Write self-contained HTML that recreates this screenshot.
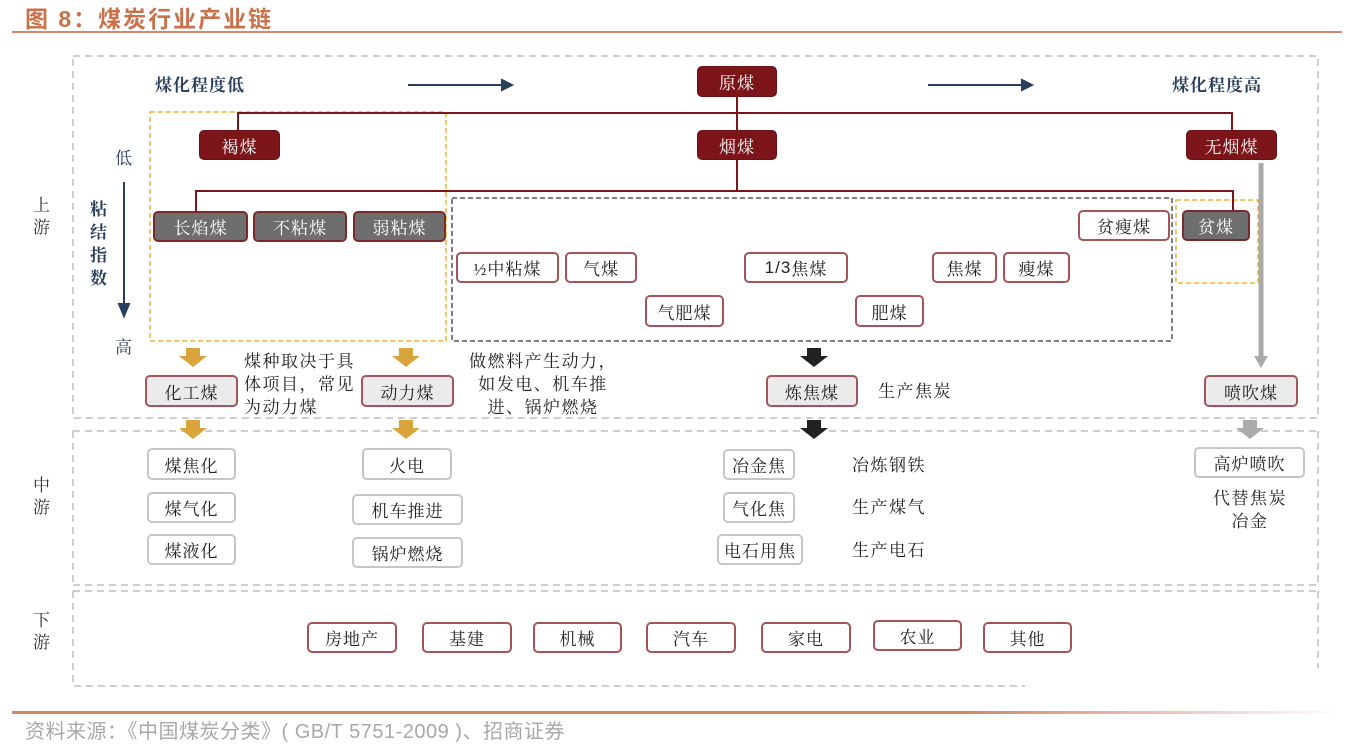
<!DOCTYPE html>
<html><head><meta charset="utf-8">
<style>
*{margin:0;padding:0;box-sizing:border-box}
body{width:1356px;height:748px;background:#fff;position:relative;overflow:hidden;font-family:"Liberation Serif","Noto Serif CJK SC",serif;color:#222}
.a{position:absolute}
.b{position:absolute;display:flex;align-items:center;justify-content:center;font-size:17px;border-radius:5px;white-space:nowrap;letter-spacing:1px}
.r{background:#7b1519;color:#fff;border:1px solid #6a1013}
.g{background:#6e6e6e;color:#fff;border:2px solid #7b2a2c}
.w{background:#fff;color:#222;border:2px solid #a5545a}
.l{background:#ebebeb;color:#222;border:2px solid #a5545a}
.o{background:#fff;color:#222;border:2px solid #c6c6c6}
.t{position:absolute;font-size:17px;line-height:23px;white-space:nowrap;letter-spacing:1.5px}
</style></head><body>
<div class="a" style="left:25px;top:0px;font-size:23px;font-weight:bold;color:#c8714b;font-family:'Liberation Sans','Noto Sans CJK SC',sans-serif;letter-spacing:2px">图 8：煤炭行业产业链</div>
<div class="a" style="left:12px;top:31px;width:1330px;height:2px;background:#d3866a"></div>

<svg class="a" style="left:0;top:0" width="1356" height="748">
<g fill="none" stroke="#bdbdbd" stroke-width="1.5" stroke-dasharray="7,5">
<rect x="73" y="56" width="1245" height="362"/>
<path d="M73 431 H1318 M73 431 V585 M1318 431 V585 M73 585 H1318"/>
<path d="M73 591 H1318 M73 591 V686 H1025 M1318 591 V668"/>
</g>
<rect x="150" y="112" width="296" height="229" fill="none" stroke="#f0b43c" stroke-width="1.5" stroke-dasharray="5,3"/>
<rect x="1176" y="200" width="82" height="83" fill="none" stroke="#f0b43c" stroke-width="1.5" stroke-dasharray="5,3"/>
<rect x="452" y="198" width="720" height="143" fill="none" stroke="#555" stroke-width="1.5" stroke-dasharray="5,3"/>
<g stroke="#7b1519" stroke-width="2" fill="none">
<path d="M737 97 V130 M238 130 V113 H1232 V130"/>
<path d="M737 160 V191 M196 211 V191 H1233 V211"/>
</g>
<g stroke="#2b3f5c" stroke-width="2" fill="#2b3f5c">
<path d="M408 85 H502"/><path d="M512 85 L502 80 L502 90Z"/>
<path d="M928 85 H1022"/><path d="M1032 85 L1022 80 L1022 90Z"/>
<path d="M124 182 V305"/><path d="M124 316 L119 304 L129 304Z"/>
</g>
<path d="M1261 163 V358" stroke="#aaa" stroke-width="5"/>
<path d="M1261 368 L1254 356 L1268 356Z" fill="#aaa"/>
<g fill="#d9a43c">
<path d="M186 348 H200 V356 H207 L193 367 L179 356 H186Z"/>
<path d="M399 348 H413 V356 H420 L406 367 L392 356 H399Z"/>
<path d="M186 420 H200 V428 H207 L193 439 L179 428 H186Z"/>
<path d="M399 420 H413 V428 H420 L406 439 L392 428 H399Z"/>
</g>
<g fill="#222">
<path d="M807 348 H821 V356 H828 L814 367 L800 356 H807Z"/>
<path d="M807 420 H821 V428 H828 L814 439 L800 428 H807Z"/>
</g>
<path d="M1243 420 H1257 V428 H1264 L1250 439 L1236 428 H1243Z" fill="#aaa"/>
<defs><linearGradient id="fl" x1="0" x2="1"><stop offset="0.72" stop-color="#d3866a"/><stop offset="1" stop-color="#d3866a" stop-opacity="0"/></linearGradient></defs>
<rect x="12" y="711" width="1330" height="3" fill="url(#fl)"/>
</svg>

<div class="t" style="left:33px;top:195px;width:20px;line-height:22px;font-size:17px;color:#333">上<br>游</div>
<div class="t" style="left:33px;top:475px;width:20px;line-height:22px;font-size:17px;color:#333">中<br>游</div>
<div class="t" style="left:33px;top:610px;width:20px;line-height:22px;font-size:17px;color:#333">下<br>游</div>
<div class="t" style="left:115px;top:147px;color:#2b3f5c">低</div>
<div class="t" style="left:115px;top:336px;color:#2b3f5c">高</div>
<div class="t" style="left:90px;top:198px;width:20px;line-height:23px;font-weight:bold;color:#2b3f5c">粘<br>结<br>指<br>数</div>
<div class="t" style="left:155px;top:74px;font-weight:bold;color:#2b3f5c;letter-spacing:1px">煤化程度低</div>
<div class="t" style="left:1172px;top:74px;font-weight:bold;color:#2b3f5c;letter-spacing:1px">煤化程度高</div>

<div class="b r" style="left:697px;top:66px;width:80px;height:31px">原煤</div>
<div class="b r" style="left:199px;top:130px;width:81px;height:30px">褐煤</div>
<div class="b r" style="left:697px;top:130px;width:80px;height:30px">烟煤</div>
<div class="b r" style="left:1186px;top:130px;width:91px;height:30px">无烟煤</div>

<div class="b g" style="left:153px;top:211px;width:95px;height:31px">长焰煤</div>
<div class="b g" style="left:253px;top:211px;width:94px;height:31px">不粘煤</div>
<div class="b g" style="left:353px;top:211px;width:93px;height:31px">弱粘煤</div>
<div class="b g" style="left:1182px;top:210px;width:68px;height:31px">贫煤</div>
<div class="b w" style="left:1078px;top:210px;width:92px;height:31px">贫瘦煤</div>
<div class="b w" style="left:456px;top:252px;width:103px;height:31px">½中粘煤</div>
<div class="b w" style="left:565px;top:252px;width:72px;height:31px">气煤</div>
<div class="b w" style="left:744px;top:252px;width:104px;height:31px"><span style="font-family:'Liberation Sans',sans-serif">1/3</span>焦煤</div>
<div class="b w" style="left:932px;top:252px;width:65px;height:31px">焦煤</div>
<div class="b w" style="left:1003px;top:252px;width:67px;height:31px">瘦煤</div>
<div class="b w" style="left:645px;top:295px;width:79px;height:32px">气肥煤</div>
<div class="b w" style="left:855px;top:295px;width:69px;height:32px">肥煤</div>

<div class="b l" style="left:145px;top:375px;width:93px;height:32px">化工煤</div>
<div class="b l" style="left:361px;top:375px;width:93px;height:32px">动力煤</div>
<div class="b l" style="left:766px;top:375px;width:92px;height:32px">炼焦煤</div>
<div class="b l" style="left:1204px;top:375px;width:94px;height:32px">喷吹煤</div>
<div class="t" style="left:244px;top:350px">煤种取决于具<br>体项目，常见<br>为动力煤</div>
<div class="t" style="left:468px;top:350px;width:150px;text-align:center">做燃料产生动力，<br>如发电、机车推<br>进、锅炉燃烧</div>
<div class="t" style="left:878px;top:380px">生产焦炭</div>

<div class="b o" style="left:147px;top:448px;width:89px;height:32px">煤焦化</div>
<div class="b o" style="left:147px;top:492px;width:89px;height:31px">煤气化</div>
<div class="b o" style="left:147px;top:534px;width:89px;height:31px">煤液化</div>
<div class="b o" style="left:362px;top:448px;width:90px;height:32px">火电</div>
<div class="b o" style="left:352px;top:494px;width:111px;height:31px">机车推进</div>
<div class="b o" style="left:352px;top:537px;width:111px;height:31px">锅炉燃烧</div>
<div class="b o" style="left:723px;top:449px;width:72px;height:31px">冶金焦</div>
<div class="b o" style="left:723px;top:492px;width:72px;height:31px">气化焦</div>
<div class="b o" style="left:717px;top:534px;width:86px;height:31px">电石用焦</div>
<div class="t" style="left:852px;top:454px">冶炼钢铁</div>
<div class="t" style="left:852px;top:496px">生产煤气</div>
<div class="t" style="left:852px;top:539px">生产电石</div>
<div class="b o" style="left:1194px;top:447px;width:111px;height:31px">高炉喷吹</div>
<div class="t" style="left:1200px;top:487px;width:100px;text-align:center">代替焦炭<br>冶金</div>

<div class="b w" style="left:307px;top:622px;width:90px;height:31px">房地产</div>
<div class="b w" style="left:422px;top:622px;width:90px;height:31px">基建</div>
<div class="b w" style="left:533px;top:622px;width:89px;height:31px">机械</div>
<div class="b w" style="left:646px;top:622px;width:90px;height:31px">汽车</div>
<div class="b w" style="left:761px;top:622px;width:90px;height:31px">家电</div>
<div class="b w" style="left:873px;top:620px;width:89px;height:31px">农业</div>
<div class="b w" style="left:983px;top:622px;width:89px;height:31px">其他</div>

<div class="a" style="left:25px;top:715px;font-size:20px;color:#a8a8a8;font-family:'Liberation Sans','Noto Sans CJK SC',sans-serif;white-space:nowrap;letter-spacing:0.5px">资料来源：《中国煤炭分类》( GB/T 5751-2009 )、招商证券</div>
</body></html>
